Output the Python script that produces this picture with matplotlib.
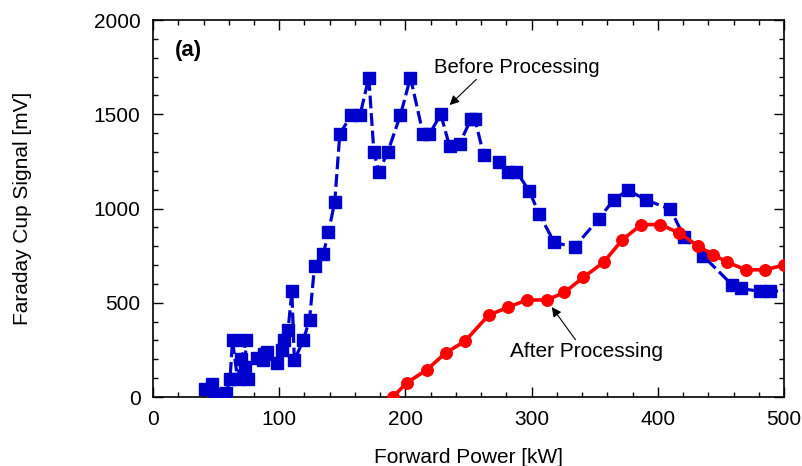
import matplotlib
matplotlib.use('Agg')
from matplotlib import pyplot as plt
from matplotlib.ticker import MultipleLocator

# before processing (blue squares, dashed)
before_power = [41, 47, 49, 55, 58, 61, 63, 67, 70, 74, 72, 75, 73, 82, 88, 87, 90, 98,
                102, 104, 107, 110, 112, 119, 124, 128, 135, 139, 144, 148, 157, 164,
                171, 175, 179, 186, 196, 204, 214, 219, 228, 235, 243, 252, 255, 262,
                274, 281, 288, 298, 306, 318, 334, 353, 365, 376, 391, 410, 421, 436,
                459, 466, 481, 489, 510]
before_signal = [40, 70, 5, 15, 20, 95, 300, 95, 200, 300, 100, 95, 160, 205, 230, 195,
                 240, 180, 250, 300, 355, 560, 195, 300, 410, 695, 760, 875, 1035, 1395,
                 1495, 1495, 1695, 1300, 1195, 1300, 1495, 1695, 1395, 1395, 1500, 1330,
                 1345, 1475, 1475, 1285, 1245, 1195, 1195, 1095, 970, 820, 795, 945,
                 1045, 1098, 1045, 996, 847, 748, 594, 576, 560, 560, 570]

# after processing (red circles, solid)
after_power = [190, 201, 217, 232, 247, 266, 281, 296, 312, 326, 341, 357, 372, 387,
               402, 417, 432, 444, 455, 470, 485, 500]
after_signal = [0, 75, 145, 235, 295, 435, 475, 515, 515, 555, 635, 715, 835, 915,
                915, 870, 800, 755, 715, 675, 675, 700]

plt.rcParams['font.family'] = ['Liberation Sans', 'DejaVu Sans']

fig = plt.figure(figsize=(8.02, 4.66), dpi=100)
ax = fig.add_axes([0.1908, 0.148, 0.7868, 0.809])

ax.plot(before_power, before_signal, color='#0000cc', linestyle=(0, (4, 1.5)), linewidth=2.3,
        marker='s', markersize=9, zorder=3)
ax.plot(after_power, after_signal, color='#ff0000', linestyle='-', linewidth=2.6,
        marker='o', markersize=8.3, zorder=4)

ax.set_xlim(0, 500)
ax.set_ylim(0, 2000)
ax.xaxis.set_major_locator(MultipleLocator(100))
ax.xaxis.set_minor_locator(MultipleLocator(20))
ax.yaxis.set_major_locator(MultipleLocator(500))
ax.yaxis.set_minor_locator(MultipleLocator(100))
ax.tick_params(which='both', direction='in', top=True, right=True, labelsize=15, width=1)
ax.tick_params(which='major', length=7, pad=9)
ax.tick_params(which='minor', length=3.5)
for s in ax.spines.values():
    s.set_linewidth(1.2)

ax.set_xlabel('Forward Power [kW]', fontsize=15, labelpad=14)
ax.set_ylabel('Faraday Cup Signal [mV]', fontsize=15)
ax.yaxis.set_label_coords(-0.1918, 0.5)

ax.text(17, 1840, '(a)', fontsize=16, fontweight='bold', va='center')
ax.annotate('Before Processing', xy=(235, 1549), xytext=(223, 1750), fontsize=14.6,
            va='center', arrowprops=dict(arrowstyle='-|>', color='black', lw=0.8,
                                         mutation_scale=14, shrinkA=0, shrinkB=0,
                                         relpos=(0.27, 0)))
ax.annotate('After Processing', xy=(316, 477), xytext=(283, 239), fontsize=15,
            va='center', arrowprops=dict(arrowstyle='-|>', color='black', lw=0.8,
                                         mutation_scale=14, shrinkA=0, shrinkB=0,
                                         relpos=(0.44, 1)))

fig.savefig('out.png', dpi=100)
